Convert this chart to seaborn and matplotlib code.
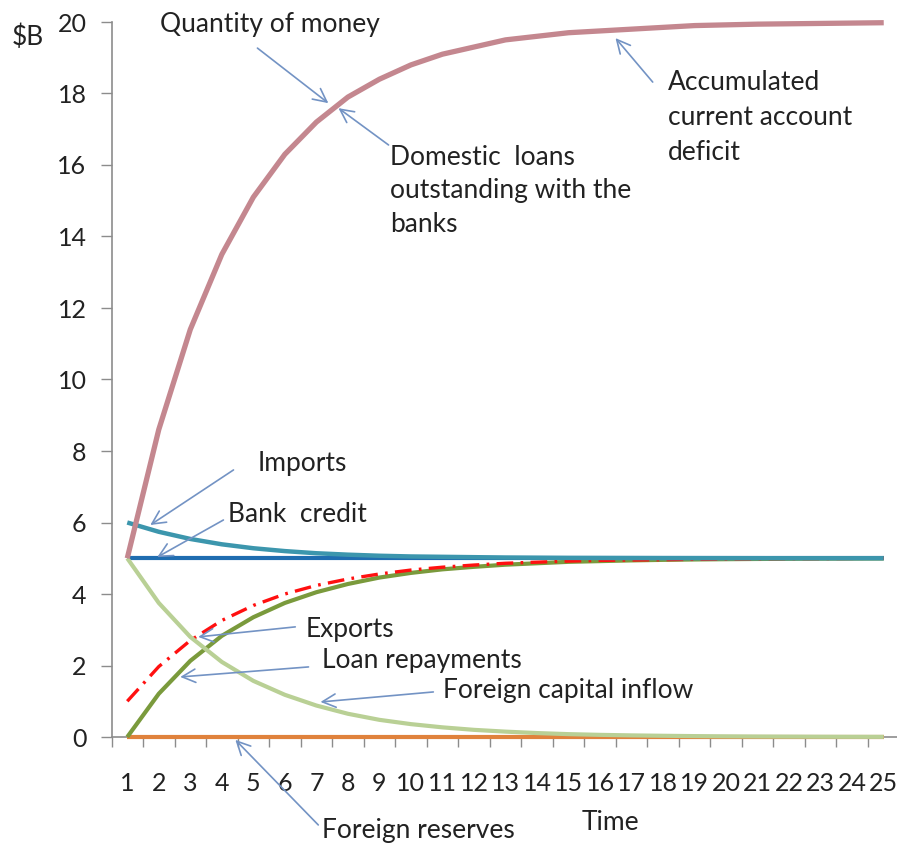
import matplotlib
matplotlib.use("Agg")
import matplotlib.pyplot as plt
import seaborn as sns
import numpy as np
import pandas as pd

# Time periods
time = list(range(1, 26))

# Series values ($B)
quantity_of_money = [5.0, 8.6, 11.4, 13.5, 15.1, 16.3, 17.2, 17.9, 18.4, 18.8,
                     19.1, 19.3, 19.5, 19.6, 19.7, 19.75, 19.8, 19.85, 19.9, 19.92,
                     19.94, 19.95, 19.96, 19.97, 19.98]
imports = [6.0, 5.74, 5.54, 5.39, 5.28, 5.2, 5.14, 5.1, 5.07, 5.05,
           5.04, 5.03, 5.02, 5.015, 5.01, 5.008, 5.006, 5.004, 5.003, 5.002,
           5.001, 5.0, 5.0, 5.0, 5.0]
bank_credit = [5.0] * 25
exports = [1.0, 1.97, 2.7, 3.26, 3.68, 4.0, 4.24, 4.42, 4.56, 4.67,
           4.75, 4.81, 4.86, 4.89, 4.92, 4.94, 4.95, 4.96, 4.97, 4.98,
           4.985, 4.99, 4.99, 4.995, 5.0]
loan_repayments = [0.0, 1.21, 2.13, 2.83, 3.35, 3.75, 4.05, 4.28, 4.46, 4.59,
                   4.69, 4.76, 4.82, 4.86, 4.9, 4.92, 4.94, 4.955, 4.966, 4.974,
                   4.98, 4.985, 4.989, 4.992, 4.994]
foreign_capital_inflow = [5.0, 3.75, 2.8, 2.1, 1.57, 1.18, 0.88, 0.65, 0.48, 0.36,
                          0.27, 0.2, 0.15, 0.11, 0.08, 0.06, 0.045, 0.034, 0.025, 0.018,
                          0.013, 0.01, 0.007, 0.005, 0.004]
foreign_reserves = [0.0] * 25

x_tick_labels = [str(t) for t in time]
y_ticks = list(range(0, 21, 2))

sns.set_style("white")
plt.rcParams["font.family"] = ["Lato", "DejaVu Sans"]

TEXT = "#222222"
ARROW = "#7393c4"
AXIS = "#8c8c8c"
FS = 19
FS_TICK = 18

fig = plt.figure(figsize=(8.97, 8.47), dpi=100)
ax = fig.add_axes([111.5 / 897, 110 / 847, (899.5 - 111.5) / 897, (737 - 22) / 847])

# (values, colour, width, dashes, z-order)
series = [
    (foreign_reserves, "#e0823c", 3.0, None, 3),
    (bank_credit, "#1f6db0", 3.0, None, 4),
    (loan_repayments, "#7a9a3c", 3.0, None, 5),
    (exports, "#ff1010", 2.4, (5, 2.2, 0.8, 2.2), 6),
    (foreign_capital_inflow, "#b9d095", 3.0, None, 7),
    (imports, "#3c96ad", 3.2, None, 8),
    (quantity_of_money, "#c4878f", 3.8, None, 9),
]
for vals, col, lw, dash, z in series:
    df = pd.DataFrame({"time": time, "value": vals})
    sns.lineplot(data=df, x="time", y="value", color=col, lw=lw, ax=ax,
                 zorder=z, solid_capstyle="butt", clip_on=False)
    if dash is not None:
        ax.lines[-1].set_dashes(dash)

ax.set_xlim(0.5, 25.5)
ax.set_ylim(0, 20)
ax.set_xlabel("")
ax.set_ylabel("")

# category labels without marks; marks between categories
ax.set_xticks(time)
ax.set_xticklabels(x_tick_labels)
ax.set_xticks([t + 0.5 for t in [0] + time], minor=True)
ax.tick_params(axis="x", which="major", bottom=True, length=0, pad=25,
               labelsize=FS_TICK, labelcolor=TEXT)
ax.tick_params(axis="x", which="minor", bottom=True, length=7, width=1,
               color=AXIS, direction="out")
ax.set_yticks(y_ticks)
ax.tick_params(axis="y", which="major", left=True, length=8, width=1, color=AXIS,
               direction="out", pad=10, labelsize=FS_TICK, labelcolor=TEXT)

sns.despine(ax=ax)
for s in ("left", "bottom"):
    ax.spines[s].set_color(AXIS)
    ax.spines[s].set_linewidth(1.2)
    ax.spines[s].set_zorder(2)

fig.text(12 / 897, 1 - 37 / 847, "$B", fontsize=FS, color=TEXT, ha="left", va="center")


def arrow(tip, start):
    ax.annotate("", xy=tip, xytext=start, annotation_clip=False,
                arrowprops=dict(arrowstyle="->,head_length=0.6,head_width=0.3",
                                color=ARROW, lw=1.2, mutation_scale=16,
                                shrinkA=0, shrinkB=0), zorder=10)


def label(x, ys, lines):
    for y, txt in zip(ys, lines):
        ax.text(x, y, txt, fontsize=FS, color=TEXT, ha="left", va="center",
                clip_on=False, zorder=10)


label(2.05, [19.94], ["Quantity of money"])
arrow((7.38, 17.73), (5.13, 19.27))

label(9.35, [16.22, 15.28, 14.34], ["Domestic  loans", "outstanding with the", "banks"])
arrow((7.70, 17.59), (9.29, 16.56))

label(18.14, [18.30, 17.33, 16.36], ["Accumulated", "current account", "deficit"])
arrow((16.49, 19.55), (17.67, 18.32))

label(5.13, [7.66], ["Imports"])
arrow((1.73, 5.93), (4.37, 7.47))

label(4.21, [6.21], ["Bank  credit"])
arrow((1.95, 5.03), (4.05, 6.07))

label(6.65, [3.02], ["Exports"])
arrow((3.25, 2.80), (6.33, 3.08))

label(7.19, [2.13], ["Loan repayments"])
arrow((2.68, 1.68), (6.75, 1.96))

label(11.03, [1.29], ["Foreign capital inflow"])
arrow((7.13, 0.98), (10.71, 1.26))

label(7.19, [-2.62], ["Foreign reserves"])
arrow((4.43, -0.08), (7.06, -2.46))

ax.text(16.33, -2.38, "Time", fontsize=FS, color=TEXT, ha="center", va="center",
        clip_on=False)

fig.savefig("out.png", dpi=100)
